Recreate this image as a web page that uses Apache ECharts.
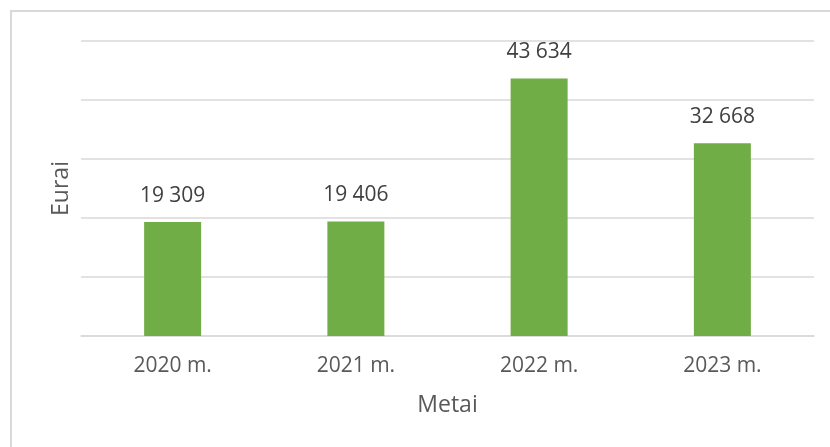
<!DOCTYPE html>
<html>
<head>
<meta charset="utf-8">
<script src="https://cdn.jsdelivr.net/npm/echarts@6/dist/echarts.min.js"></script>
<style>
html,body{margin:0;padding:0;background:#fff;}
#c{width:830px;height:447px;}
</style>
</head>
<body>
<div id="c"></div>
<script>
const categories = ['2020 m.', '2021 m.', '2022 m.', '2023 m.'];
const values = [19309, 19406, 43634, 32668];
const yAxisName = 'Eurai';
const xAxisName = 'Metai';

function fmt(v) {
  return String(v).replace(/\B(?=(\d{3})+(?!\d))/g, ' ');
}

const chart = echarts.init(document.getElementById('c'), null, {renderer: 'canvas'});
chart.setOption({
  animation: false,
  backgroundColor: '#ffffff',
  textStyle: {fontFamily: 'Open Sans'},
  graphic: [{
    type: 'rect',
    shape: {x: 11, y: 11, width: 840, height: 460},
    style: {fill: 'none', stroke: '#d9d9d9', lineWidth: 2},
    silent: true
  }],
  grid: {left: 81, right: 16, top: 41, bottom: 111},
  xAxis: {
    type: 'category',
    data: categories,
    name: xAxisName,
    nameLocation: 'middle',
    nameGap: 58,
    nameTextStyle: {color: '#595959', fontSize: 23, fontFamily: 'Open Sans'},
    axisLine: {lineStyle: {color: '#d9d9d9', width: 1.5}},
    axisTick: {show: false},
    axisLabel: {color: '#595959', fontSize: 21, margin: 20, fontFamily: 'Open Sans'}
  },
  yAxis: {
    type: 'value',
    min: 0,
    max: 50000,
    interval: 10000,
    name: yAxisName,
    nameLocation: 'middle',
    nameGap: 8,
    nameTextStyle: {color: '#595959', fontSize: 23, fontFamily: 'Open Sans'},
    axisLine: {show: false},
    axisTick: {show: false},
    axisLabel: {show: false},
    splitLine: {lineStyle: {color: '#d9d9d9', width: 1.5}}
  },
  series: [{
    type: 'bar',
    data: values,
    barWidth: 57,
    itemStyle: {color: '#70AD47'},
    label: {
      show: true,
      position: 'top',
      distance: 16,
      color: '#404040',
      fontSize: 21,
      fontFamily: 'Open Sans',
      formatter: p => fmt(p.value)
    }
  }]
});
</script>
</body>
</html>
